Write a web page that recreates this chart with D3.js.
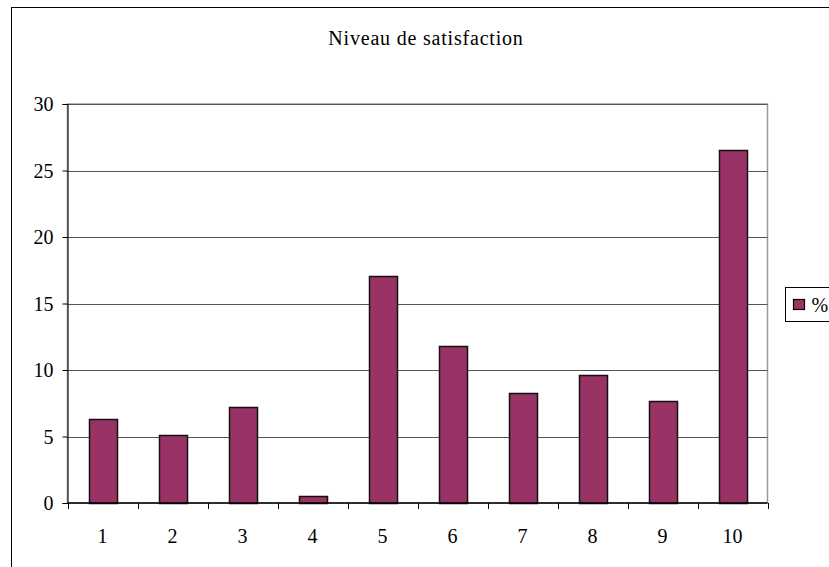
<!DOCTYPE html>
<html>
  <head>
    <meta charset="utf-8">
    <title>Niveau de satisfaction</title>
    <style>
      body { margin: 0; background: #fff; }
    </style>
  </head>
  <body>
    <div id="chart"></div>
    <script src="https://cdn.jsdelivr.net/npm/d3@7"></script>
    <script>
      // data
      var categories = ['1', '2', '3', '4', '5', '6', '7', '8', '9', '10'];
      var values = [6.3, 5.1, 7.2, 0.5, 17.1, 11.8, 8.3, 9.65, 7.7, 26.55];
      var yTicks = [0, 5, 10, 15, 20, 25, 30];
      var seriesName = '%';
      var title = 'Niveau de satisfaction';

      var width = 829, height = 567;
      var plot = { left: 67.5, top: 104, right: 767.5, bottom: 503 };
      var serif = "'Liberation Serif', 'Times New Roman', Times, serif";

      var svg = d3.select('#chart').append('svg')
        .attr('width', width)
        .attr('height', height);

      // outer chart border (runs off the right and bottom edges)
      svg.append('rect')
        .attr('x', 11.5).attr('y', 7.5)
        .attr('width', 840).attr('height', 580)
        .attr('fill', '#fff').attr('stroke', '#000');

      var x = d3.scaleBand()
        .domain(categories)
        .range([plot.left, plot.right])
        .paddingInner(0.6).paddingOuter(0.3);   // ~ Excel gap width 150

      var y = d3.scaleLinear()
        .domain([0, 30])
        .range([plot.bottom, plot.top]);

      // plot area border
      svg.append('rect')
        .attr('x', plot.left).attr('y', plot.top)
        .attr('width', plot.right - plot.left).attr('height', plot.bottom - plot.top)
        .attr('fill', 'none').attr('stroke', '#9a9a9a').attr('stroke-width', 1.5);

      // gridlines
      svg.append('g').selectAll('line')
        .data(yTicks.filter(function(d) { return d > 0; }))
        .enter().append('line')
        .attr('x1', plot.left).attr('x2', plot.right)
        .attr('y1', function(d) { return Math.round(y(d)) + 0.5; })
        .attr('y2', function(d) { return Math.round(y(d)) + 0.5; })
        .attr('stroke', '#555');

      // bars
      svg.append('g').selectAll('rect')
        .data(values)
        .enter().append('rect')
        .attr('x', function(d, i) { return Math.round(x(categories[i])) + 0.5; })
        .attr('y', function(d) { return Math.round(y(d)) + 0.5; })
        .attr('width', Math.round(x.bandwidth()))
        .attr('height', function(d) { return Math.round(y(0)) - Math.round(y(d)); })
        .attr('fill', '#993366')
        .attr('stroke', '#111').attr('stroke-width', 1.5);

      // y axis
      var yAxis = svg.append('g')
        .attr('transform', 'translate(' + plot.left + ',0)')
        .call(d3.axisLeft(y).tickValues(yTicks).tickSize(5).tickPadding(9));
      yAxis.attr('font-family', null).attr('font-size', null);
      yAxis.select('.domain').attr('stroke', '#000');
      yAxis.selectAll('text')
        .style('font-family', serif)
        .style('font-size', '20px')
        .attr('dy', '0.34em');

      // x axis: ticks at category boundaries
      var xAxisG = svg.append('g')
        .attr('transform', 'translate(0,' + plot.bottom + ')');
      var step = (plot.right - plot.left) / categories.length;
      xAxisG.append('line')
        .attr('x1', plot.left).attr('x2', plot.right)
        .attr('y1', 0).attr('y2', 0)
        .attr('stroke', '#000').attr('stroke-width', 1.5);
      xAxisG.selectAll('.tick')
        .data(d3.range(categories.length + 1))
        .enter().append('line')
        .attr('x1', function(i) { return Math.round(plot.left + i * step) + 0.5; })
        .attr('x2', function(i) { return Math.round(plot.left + i * step) + 0.5; })
        .attr('y1', 0).attr('y2', 6)
        .attr('stroke', '#000');
      xAxisG.selectAll('text')
        .data(categories)
        .enter().append('text')
        .attr('x', function(d) { return x(d) + x.bandwidth() / 2; })
        .attr('y', 40)
        .attr('text-anchor', 'middle')
        .style('font-family', serif)
        .style('font-size', '20px')
        .text(function(d) { return d; });

      // title
      svg.append('text')
        .attr('x', 426).attr('y', 45)
        .attr('text-anchor', 'middle')
        .style('font-family', serif)
        .style('font-size', '20px')
        .style('letter-spacing', '0.8px')
        .text(title);

      // legend
      var legend = svg.append('g').attr('transform', 'translate(785.5,287.5)');
      legend.append('rect')
        .attr('width', 60).attr('height', 34)
        .attr('fill', '#fff').attr('stroke', '#000');
      legend.append('rect')
        .attr('x', 8).attr('y', 12)
        .attr('width', 11).attr('height', 10)
        .attr('fill', '#993366').attr('stroke', '#000').attr('stroke-width', 1.2);
      legend.append('text')
        .attr('x', 26).attr('y', 24)
        .style('font-family', serif)
        .style('font-size', '20px')
        .text(seriesName);
    </script>
  </body>
</html>
